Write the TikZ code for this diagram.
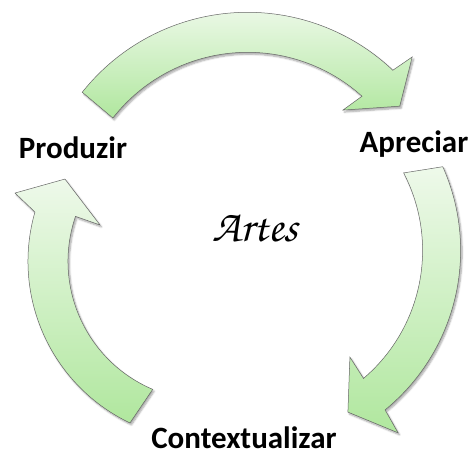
\documentclass[tikz,border=0pt]{standalone}
\usepackage[T1]{fontenc}
\usepackage{fontspec}
\usepackage{xcolor}
\usetikzlibrary{shadows.blur}
\newfontfamily\rotulo{Carlito}
\newcommand\cursiva{\fontencoding{T1}\fontfamily{pzc}\fontseries{mb}\fontshape{it}\fontsize{45}{50}\selectfont}
\definecolor{verdeclaro}{RGB}{238,249,234}
\definecolor{verde}{RGB}{176,231,158}

\begin{document}
\begin{tikzpicture}[x=1pt,y=1pt,
seta/.style={draw=black!60,line width=0.5pt,top color=verdeclaro,bottom color=verde,
blur shadow={shadow xshift=1.5pt,shadow yshift=-2pt,shadow blur steps=6,shadow opacity=35}},
rotulo/.style={font=\rotulo\bfseries\fontsize{31}{36}\selectfont,anchor=base,inner sep=1pt}]
\useasboundingbox (0,0) rectangle (473,452);

\draw[seta,shift={(247.6,228.7)}] (141.6:211) arc[start angle=141.6,end angle=46.5,radius=211]
-- (45.3:234) -- (37.6:192) -- (49.9:148) -- (48:171) arc[start angle=48,end angle=142,radius=171] -- cycle;
\draw[seta,shift={(254.6,201.5)}] (24:206) arc[start angle=24,end angle=-50.7,radius=206]
-- (-51.8:232) -- (-60:186.6) -- (-48.2:143) -- (-49.6:168) arc[start angle=-49.6,end angle=27.5,radius=168] -- cycle;
\draw[seta,shift={(207,190.6)}] (244.5:179) arc[start angle=244.5,end angle=164,radius=179]
-- (160.4:203.8) -- (149.9:164.2) -- (161.2:113) -- (161.1:139) arc[start angle=161.1,end angle=247,radius=139] -- cycle;

\node[anchor=base,inner sep=1pt](1) at(255,210){\cursiva Artes};
\node[rotulo](2) at(73,293){Produzir};
\node[rotulo](3) at(414,299){Apreciar};
\node[rotulo](4) at(244,4){Contextualizar};
\end{tikzpicture}
\end{document}
